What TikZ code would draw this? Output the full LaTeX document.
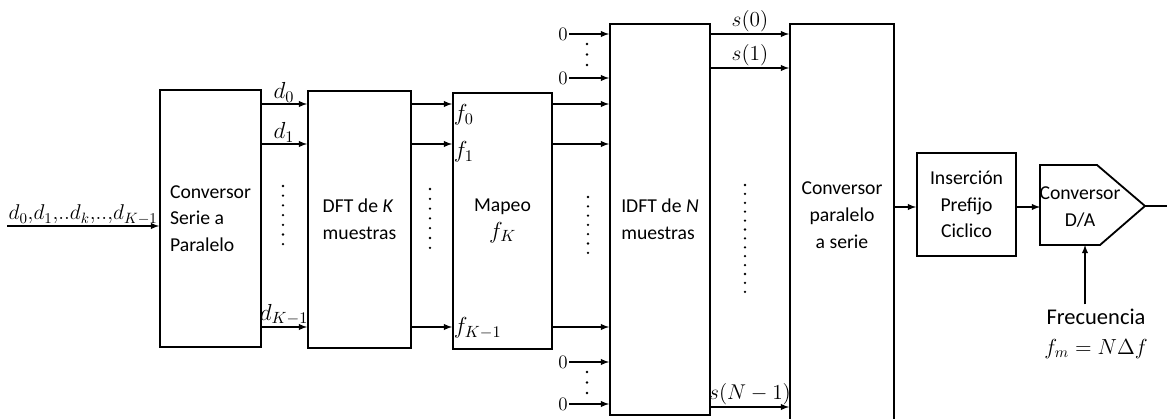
\documentclass[tikz,border=0pt]{standalone}
\usepackage{fix-cm}
\usepackage{fontspec}
\setmainfont{Carlito}
\tikzset{
  blk/.style={draw, line width=1.3pt, inner sep=0pt},
  conn/.style={->, line width=1pt},
  lbl/.style={font=\fontsize{16.5}{18}\selectfont},
}
\begin{document}
\begin{tikzpicture}[>=latex, x=0.025cm, y=-0.025cm, font=\fontsize{14}{19}\selectfont]
\useasboundingbox (0,0) rectangle (1167,419);
\clip (0,0) rectangle (1167,419);

\node[blk, minimum width=2.525cm, minimum height=6.425cm, align=left] (sp) at (210.5,218.5) {Conversor\\Serie a\\Paralelo};
\node[blk, minimum width=2.575cm, minimum height=6.425cm, align=left] (dft) at (359.5,219.5) {DFT de \textit{K}\\muestras};
\node[blk, minimum width=2.475cm, minimum height=6.4cm, align=center] (mapeo) at (502.5,221) {Mapeo\\{\fontsize{16.5}{19}\selectfont$f_K$}};
\node[blk, minimum width=2.5cm, minimum height=9.775cm, align=left] (idft) at (660,219.5) {IDFT de \textit{N}\\muestras};
\node[blk, minimum width=2.6cm, minimum height=10.15cm] (ps) at (842,227) {};
\node[align=center] (pstext) at (842,215) {Conversor\\paralelo\\a serie};
\node[blk, minimum width=2.475cm, minimum height=2.575cm, align=center] (cp) at (966.5,204.5) {Inserción\\Prefijo\\Ciclico};

\coordinate (dain) at (1040,207);
\coordinate (daout) at (1145,206);
\coordinate (dabot) at (1085,245);
\coordinate (out) at (1167,206);
\draw[line width=1.3pt] (1040,165) -- (1097,165) -- (daout) -- (1100,245) -- (1040,245) -- cycle;
\node[align=center] (da) at (1080,207) {Conversor\\D/A};
\draw[line width=1pt] (daout) -- (out);

\node[align=center, font=\fontsize{16}{21}\selectfont] (freq) at (1096,334) {Frecuencia\\{\fontsize{15.5}{21}\selectfont$f_m=N\Delta f$}};
\draw[conn] (freq.north -| dabot) -- (dabot);

\coordinate (in) at (7,226);
\draw[conn] (in) -- (sp.west |- in);
\node[font=\fontsize{15.2}{17}\selectfont, above right, inner sep=1pt] (inlab) at (in) {$d_0{,}d_1{,}..d_k{,}..{,}d_{K-1}$};

\foreach \y/\lab in {104/d_0,144/d_1,327/d_{K-1}}
{
    \draw[conn] (sp.east |- 0,\y) -- (dft.west |- 0,\y);
    \node[lbl, above, inner sep=1pt] (d\y) at (284,\y) {$\lab$};
    \draw[conn] (dft.east |- 0,\y) -- (mapeo.west |- 0,\y);
    \draw[conn] (mapeo.east |- 0,\y) -- (idft.west |- 0,\y);
}
\foreach \y/\lab in {115/f_0,152/f_1,328/f_{K-1}}
{
    \node[lbl, anchor=west, inner sep=1pt] (f\y) at (mapeo.west |- 0,\y) {$\lab$};
}
\foreach \y in {34,78,362,404}
{
    \node[font=\fontsize{13.5}{15}\selectfont, inner sep=1pt] (z\y) at (563,\y) {$0$};
    \draw[conn] (z\y) -- (idft.west |- z\y);
}
\foreach \y/\lab in {34/s(0),68/s(1),407/s(N-1)}
{
    \draw[conn] (idft.east |- 0,\y) -- (ps.west |- 0,\y);
    \node[font=\fontsize{15.2}{18}\selectfont, above, inner sep=1pt] (s\y) at (750,\y) {$\lab$};
}
\draw[conn] (ps.east |- 0,207) -- (cp.west |- 0,207);
\draw[conn] (cp.east |- dain) -- (dain);

\foreach \x/\ya/\n/\d in {283/186/6/9.7, 430/189/6/9.8, 588/197/6/9.3, 745/185/12/8.9, 587/44/2/10.5, 587/372/2/10.5}
{
    \foreach \i in {0,...,\n}
        \fill (\x,\ya+\i*\d) circle (0.9pt);
}
\end{tikzpicture}
\end{document}
